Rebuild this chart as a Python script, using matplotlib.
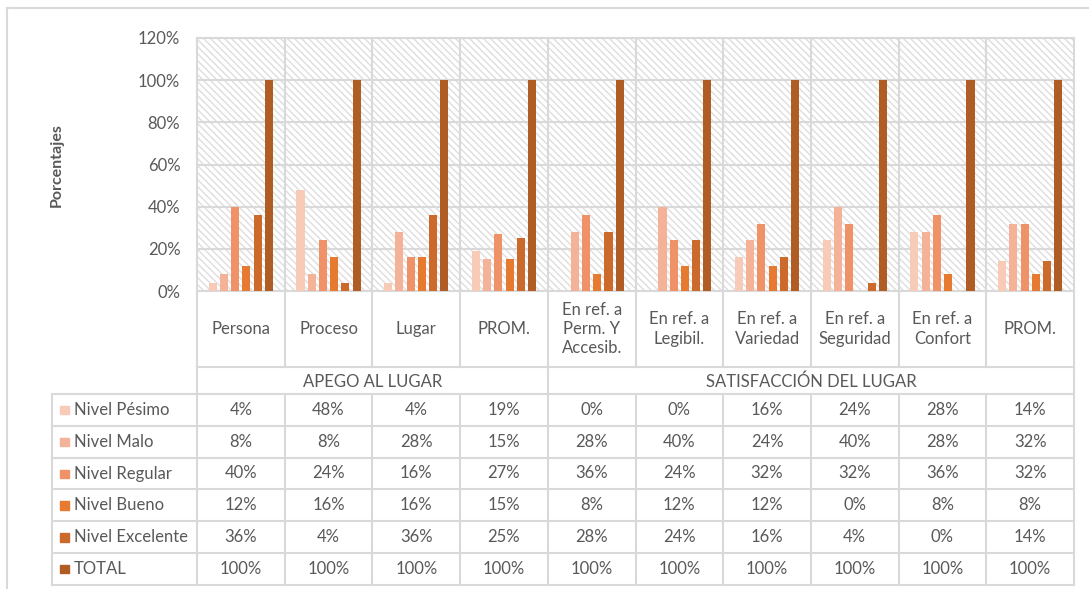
import matplotlib
matplotlib.use("Agg")
from matplotlib import pyplot
from matplotlib.patches import Rectangle
from matplotlib.lines import Line2D
from matplotlib.collections import LineCollection
from matplotlib.transforms import Affine2D

# data (percent)
categories = ["Persona", "Proceso", "Lugar", "PROM.",
              "En ref. a\nPerm. Y\nAccesib.", "En ref. a\nLegibil.", "En ref. a\nVariedad",
              "En ref. a\nSeguridad", "En ref. a\nConfort", "PROM."]
groups = ["APEGO AL LUGAR", "SATISFACCIÓN DEL LUGAR"]
group_sizes = [4, 6]
series_names = ["Nivel Pésimo", "Nivel Malo", "Nivel Regular", "Nivel Bueno", "Nivel Excelente", "TOTAL"]
pesimo = [4, 48, 4, 19, 0, 0, 16, 24, 28, 14]
malo = [8, 8, 28, 15, 28, 40, 24, 40, 28, 32]
regular = [40, 24, 16, 27, 36, 24, 32, 32, 36, 32]
bueno = [12, 16, 16, 15, 8, 12, 12, 0, 8, 8]
excelente = [36, 4, 36, 25, 28, 24, 16, 4, 0, 14]
total = [100, 100, 100, 100, 100, 100, 100, 100, 100, 100]
series = [pesimo, malo, regular, bueno, excelente, total]
colors = ["#F8CBB9", "#F4B398", "#F09268", "#E67A30", "#CB6A2A", "#B05C25"]
yticks = [0, 20, 40, 60, 80, 100, 120]

W, H = 1089, 589
grey = "#D9D9D9"
txt = "#595959"
fs = 12
pyplot.rcParams["font.family"] = ["Lato", "DejaVu Sans"]

fig = pyplot.figure(figsize=(W / 100, H / 100), dpi=100)

# outer chart frame (cut off at right and bottom)
fig.add_artist(Line2D([7 / W, 7 / W], [0, 1 - 8 / H], color=grey, lw=1.5))
fig.add_artist(Line2D([7 / W, 1], [1 - 8 / H, 1 - 8 / H], color=grey, lw=1.5))

pw, ph = 877, 253
ax = fig.add_axes([197 / W, 1 - 291 / H, pw / W, ph / H])
ax.set_xlim(-0.5, len(categories) - 0.5)
ax.set_ylim(0, 120)

# diagonal hatch of the plot area, in pixel units of the axes
px = Affine2D().scale(1 / pw, 1 / ph) + ax.transAxes
segs = [[(c, ph), (c + ph, 0)] for c in range(-ph, pw, 7)]
ax.add_collection(LineCollection(segs, colors="#DEDEDE", linewidths=1.0,
                                 transform=px, zorder=0.5))

slot = 0.128
width = 0.092
for j, vals in enumerate(series):
    xs = [i + (j - 2.5) * slot for i in range(len(categories))]
    ax.bar(xs, vals, width=width, color=colors[j], zorder=3)

ax.set_yticks(yticks)
ax.set_yticklabels([f"{v}%" for v in yticks])
ax.set_xticks([])
ax.tick_params(axis="y", length=0, pad=12, labelsize=fs, labelcolor=txt)
ax.yaxis.grid(True, color=grey, lw=1.5, zorder=1)
ax.set_axisbelow(True)
for k in range(len(categories) - 1):
    ax.axvline(k + 0.5, color=grey, lw=1.5, zorder=1)
for s in ax.spines.values():
    s.set_color(grey)
    s.set_linewidth(1.5)

fig.text(57 / W, 1 - 165 / H, "Porcentajes", rotation=90, ha="center", va="center",
         fontsize=11.5, fontweight="bold", color=txt)

# data table below the plot
axt = fig.add_axes([197 / W, 1 - 585 / H, pw / W, 294 / H])
axt.set_xlim(-0.5, len(categories) - 0.5)
axt.set_ylim(294, 0)
axt.axis("off")

n = len(categories)
cat_h, grp_h, row_h = 76, 27, 31.8
y_grp = cat_h
y_rows = cat_h + grp_h
left = -2.153
lkw = dict(color=grey, lw=1.5, clip_on=False)

for k in range(n + 1):
    axt.plot([k - 0.5, k - 0.5], [0, cat_h], **lkw)
    axt.plot([k - 0.5, k - 0.5], [y_rows, y_rows + 6 * row_h], **lkw)
edges = [-0.5]
for g in group_sizes:
    edges.append(edges[-1] + g)
for e in edges:
    axt.plot([e, e], [y_grp, y_rows], **lkw)
axt.plot([left, left], [y_rows, y_rows + 6 * row_h], **lkw)
axt.plot([-0.5, n - 0.5], [y_grp, y_grp], **lkw)
for r in range(7):
    yy = y_rows + r * row_h
    axt.plot([left, n - 0.5], [yy, yy], **lkw)

for i, c in enumerate(categories):
    axt.text(i, cat_h / 2, c, ha="center", va="center", fontsize=fs, color=txt,
             linespacing=1.25)
for g, name in enumerate(groups):
    axt.text((edges[g] + edges[g + 1]) / 2, y_grp + grp_h / 2 + 1, name,
             ha="center", va="center", fontsize=fs, color=txt)

for j, (name, vals) in enumerate(zip(series_names, series)):
    yc = y_rows + (j + 0.5) * row_h
    axt.add_patch(Rectangle((-2.062, yc - 4), 0.1, 8.5, color=colors[j], clip_on=False))
    axt.text(-1.9025, yc, name, ha="left", va="center", fontsize=fs, color=txt, clip_on=False)
    for i, v in enumerate(vals):
        axt.text(i, yc, f"{v}%", ha="center", va="center", fontsize=fs, color=txt)

fig.savefig("out.png", dpi=100)
